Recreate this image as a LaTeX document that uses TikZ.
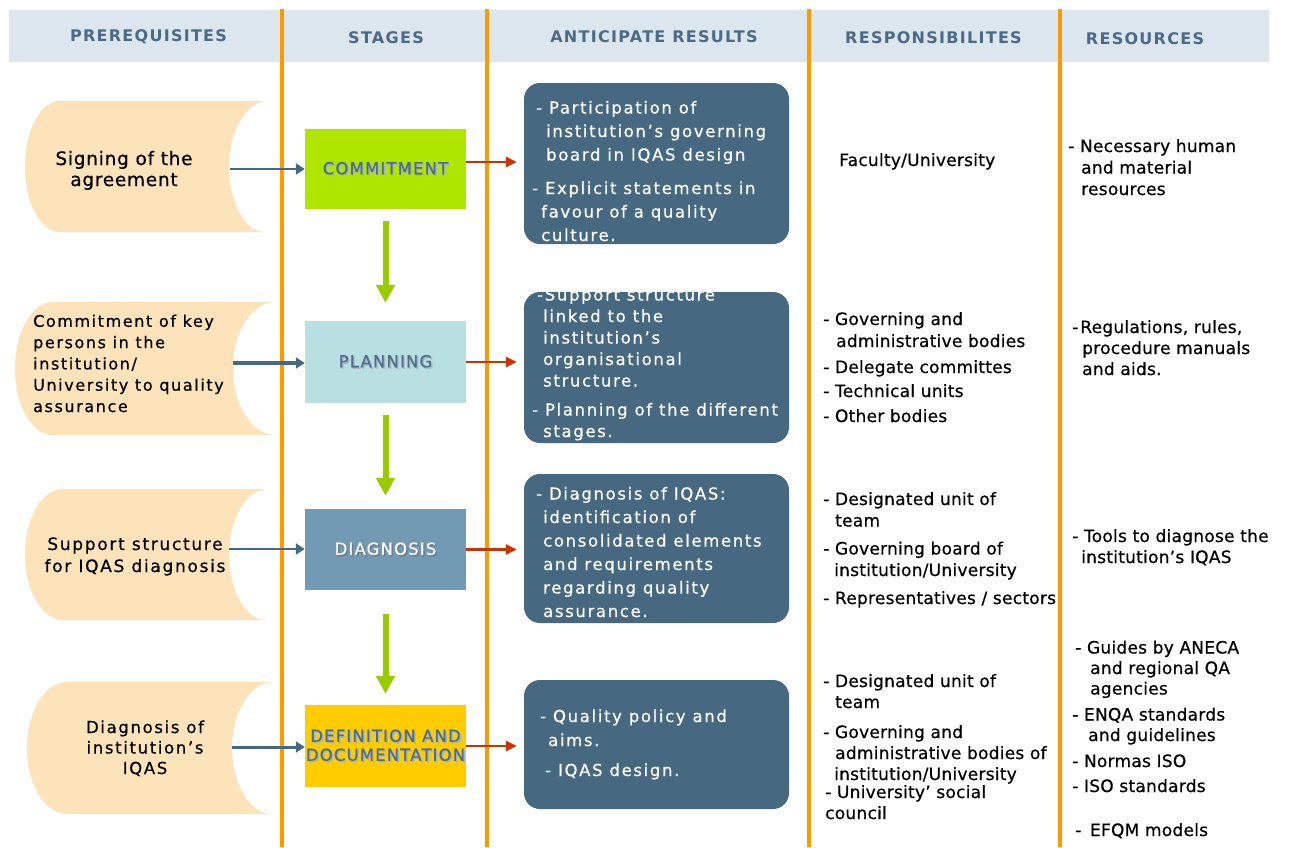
\documentclass[tikz,border=0pt]{standalone}
\usepackage{fontspec}
\setmainfont{DejaVu Sans}
\newfontfamily\fHead[LetterSpace=8]{DejaVu Sans}
\newfontfamily\fStage[LetterSpace=7,FakeBold=0.6]{DejaVu Sans}
\newfontfamily\fRes[LetterSpace=10,FakeBold=0.6]{DejaVu Sans}
\newfontfamily\fScrA[LetterSpace=4,FakeBold=0.6]{DejaVu Sans}
\newfontfamily\fScr[LetterSpace=10,FakeBold=0.6]{DejaVu Sans}
\newfontfamily\fRight[LetterSpace=1.5,FakeBold=0.6]{DejaVu Sans}
\usetikzlibrary{arrows.meta}
\definecolor{hdrband}{RGB}{220,230,238}
\definecolor{hdrtext}{RGB}{74,106,134}
\definecolor{orangeln}{RGB}{255,153,0}
\definecolor{scrollc}{RGB}{253,227,186}
\definecolor{resblue}{RGB}{70,104,128}
\definecolor{limec}{RGB}{174,230,0}
\definecolor{planc}{RGB}{184,224,227}
\definecolor{diagc}{RGB}{115,154,181}
\definecolor{defc}{RGB}{255,204,0}
\definecolor{greenar}{RGB}{153,204,0}
\definecolor{redar}{RGB}{204,51,0}
\definecolor{stagetext}{RGB}{76,108,137}
\definecolor{shadowc}{RGB}{170,182,196}
\definecolor{shadowd}{RGB}{110,125,140}
\newcommand\hs[1]{\hspace*{#1pt}}
\newcommand\shd[2]{\makebox[0pt][l]{\hspace*{1.5pt}\raisebox{-1.5pt}{\textcolor{#2}{#1}}}#1}
% #1 top, #2 bottom, #3 left top x, #4 leftmost x, #5 right top x, #6 concave x, #7 right bottom x
\newcommand\ScrollShape[7]{%
  \fill[scrollc] (#3,#1) -- (#5,#1)
  .. controls ({#5-0.552*(#5-#6)},#1) and (#6,{(#1+#2)/2-0.552*(#2-#1)/2}) .. (#6,{(#1+#2)/2})
  .. controls (#6,{(#1+#2)/2+0.552*(#2-#1)/2}) and ({#7-0.552*(#7-#6)},#2) .. (#7,#2)
  -- (#3,#2)
  .. controls ({#3-0.552*(#3-#4)},#2) and (#4,{(#1+#2)/2+0.552*(#2-#1)/2}) .. (#4,{(#1+#2)/2})
  .. controls (#4,{(#1+#2)/2-0.552*(#2-#1)/2}) and ({#3-0.552*(#3-#4)},#1) .. cycle;}
\tikzset{
  hdr/.style={font=\fHead\bfseries\fontsize{16}{19}\selectfont, text=hdrtext, anchor=base, inner sep=0},
  stagebox/.style={minimum width=161, minimum height=81, inner sep=0, align=center,
    font=\fStage\fontsize{16.5}{19}\selectfont},
  resbox/.style={fill=resblue, rounded corners=16, minimum width=265, inner sep=0},
  restext/.style={text=white, align=left, anchor=base west, inner sep=0},
  righttext/.style={text=black, align=left, anchor=base west, inner sep=0},
  scrtext/.style={text=black, inner sep=0},
  orangerule/.style={draw=orangeln, line width=3.5},
  bluearrow/.style={draw=resblue, line width=2.5, -{Triangle[width=11pt,length=9pt]}},
  redarrow/.style={draw=redar, line width=2.5, -{Triangle[width=10pt,length=11pt]}, shorten >=7pt},
  greenarrow/.style={draw=greenar, line width=6, -{Triangle[width=18pt,length=18pt]}}
}
\begin{document}
\begin{tikzpicture}[x=1pt,y=-1pt]
\useasboundingbox (0,0) rectangle (1290,847);
\fill[white] (0,0) rectangle (1290,847);
% header band
\fill[hdrband] (9,10) rectangle (1269,62);
\node[hdr] (h1) at (148.5,41) {PREREQUISITES};
\node[hdr] (h2) at (386,43) {STAGES};
\node[hdr] (h3) at (654,42) {ANTICIPATE RESULTS};
\node[hdr] (h4) at (933.5,43) {RESPONSIBILITES};
\node[hdr] (h5) at (1145,44) {RESOURCES};
% scrolls
\ScrollShape{101}{232}{60}{25}{268}{229}{265}
\ScrollShape{302}{435}{53}{15}{275}{233}{275}
\ScrollShape{489}{620}{63}{25}{268}{229}{266}
\ScrollShape{682}{814}{67}{27}{273}{232}{272}
\node[scrtext, anchor=base, align=center, font=\fScrA\fontsize{18.5}{21}\selectfont] (s1) at (124,186) {Signing of the\\agreement};
\node[scrtext, anchor=base west, align=left, font=\fScr\fontsize{16}{21.3}\selectfont] (s2) at (33,412) {Commitment of key\\persons in the\\institution/\\University to quality\\assurance};
\node[scrtext, anchor=base, align=center, font=\fScr\fontsize{17}{22}\selectfont] (s3) at (135,572) {Support structure\\for IQAS diagnosis};
\node[scrtext, anchor=base, align=center, font=\fScr\fontsize{16.5}{20.5}\selectfont] (s4) at (145,774) {Diagnosis of\\institution’s\\IQAS};
\coordinate (p1) at (230,169);
\coordinate (p2) at (233,363);
\coordinate (p3) at (229,549);
\coordinate (p4) at (232,747);
% stages
\node[stagebox, fill=limec, text=stagetext, minimum height=80] (c1) at (385.5,169) {\shd{COMMITMENT}{shadowc}};
\node[stagebox, fill=planc, text=stagetext, minimum height=82] (c2) at (385.5,362) {\shd{PLANNING}{shadowc}};
\node[stagebox, fill=diagc, text=white, minimum height=81] (c3) at (385.5,549.5) {\shd{DIAGNOSIS}{shadowd}};
\node[stagebox, fill=defc, text=stagetext, minimum height=82] (c4) at (385.5,746) {\shd{DEFINITION AND}{shadowc}\\\shd{DOCUMENTATION}{shadowc}};
% result boxes
\node[resbox, minimum height=161] (r1) at (656.5,163.5) {};
\node[resbox, minimum height=151] (r2) at (656.5,367.5) {};
\node[resbox, minimum height=149] (r3) at (656.5,548.5) {};
\node[resbox, minimum height=129] (r4) at (656.5,744.5) {};
\node[restext, font=\fRes\fontsize{16.5}{23.5}\selectfont] (rt1) at (532,241) {\hs{4}- Participation of\\\hs{14}institution’s governing\\\hs{14}board in IQAS design\\[10pt]- Explicit statements in\\\hs{9}favour of a quality\\\hs{9}culture.};
\node[restext, font=\fRes\fontsize{16.5}{21.5}\selectfont] (rt2) at (532,437) {\hs{5}-Support structure\\\hs{11}linked to the\\\hs{11}institution’s\\\hs{11}organisational\\\hs{11}structure.\\[7.5pt]- Planning of the different\\\hs{11}stages.};
\node[restext, font=\fRes\fontsize{16.5}{23.5}\selectfont] (rt3) at (536,617) {- Diagnosis of IQAS:\\\hs{7}identification of\\\hs{7}consolidated elements\\\hs{7}and requirements\\\hs{7}regarding quality\\\hs{7}assurance.};
\node[restext, font=\fRes\fontsize{16.5}{24}\selectfont] (rt4) at (540,776) {- Quality policy and\\\hs{8}aims.\\[6pt]\hs{5}- IQAS design.};
% responsibilities
\node[righttext, font=\fRight\fontsize{17}{21.5}\selectfont] (q1) at (839,166) {Faculty/University};
\node[righttext, font=\fRight\fontsize{17}{22}\selectfont] (q2) at (823,422) {- Governing and\\\hs{13}administrative bodies\\[4pt]- Delegate committes\\[2pt]- Technical units\\[3pt]- Other bodies};
\node[righttext, font=\fRight\fontsize{17}{21.5}\selectfont] (q3) at (823,604) {- Designated unit of\\\hs{12}team\\[6.5pt]- Governing board of\\\hs{11}institution/University\\[6.5pt]- Representatives / sectors};
\node[righttext, font=\fRight\fontsize{17}{21}\selectfont] (q4) at (823,819) {- Designated unit of\\\hs{12}team\\[9pt]- Governing and\\\hs{12}administrative bodies of\\\hs{11}institution/University\\[-3pt]\hs{2}- University’ social\\\hs{2}council};
% resources
\node[righttext, font=\fRight\fontsize{17}{21.5}\selectfont] (u1) at (1068,195) {- Necessary human\\\hs{13}and material\\\hs{13}resources};
\node[righttext, font=\fRight\fontsize{17}{21}\selectfont] (u2) at (1072,375) {-\hs{2}Regulations, rules,\\\hs{10}procedure manuals\\\hs{10}and aids.};
\node[righttext, font=\fRight\fontsize{17}{21}\selectfont] (u3) at (1072,563) {- Tools to diagnose the\\\hs{9}institution’s IQAS};
\node[righttext, font=\fRight\fontsize{17}{20.5}\selectfont] (u4) at (1072,836) {\hs{3}- Guides by ANECA\\\hs{18}and regional QA\\\hs{18}agencies\\[5.5pt]- ENQA standards\\\hs{16}and guidelines\\[5.5pt]- Normas ISO\\[4.5pt]- ISO standards\\[23.5pt]\hs{3}-\hs{3} EFQM models};
% orange column rules
\draw[orangerule] (282,9) -- (282,847);
\draw[orangerule] (487,9) -- (487,847);
\draw[orangerule] (809,9) -- (809,847);
\draw[orangerule] (1060,9) -- (1060,847);
% connectors
\draw[bluearrow] (p1) -- (p1 -| c1.west);
\draw[bluearrow, line width=4] (p2) -- (p2 -| c2.west);
\draw[bluearrow] (p3) -- (p3 -| c3.west);
\draw[bluearrow, line width=3] (p4) -- (p4 -| c4.west);
\coordinate (a1) at ([yshift=7pt]c1.east);
\draw[redarrow] (a1) -- (a1 -| r1.west);
\draw[redarrow] (c2.east) -- (c2.east -| r2.west);
\draw[redarrow] (c3.east) -- (c3.east -| r3.west);
\draw[redarrow] (c4.east) -- (c4.east -| r4.west);
\draw[greenarrow, shorten <=12pt, shorten >=18pt] (c1) -- (c2);
\draw[greenarrow, shorten <=12pt, shorten >=13pt] (c2) -- (c3);
\draw[greenarrow, shorten <=24pt, shorten >=11pt] (c3) -- (c4);
\end{tikzpicture}
\end{document}
